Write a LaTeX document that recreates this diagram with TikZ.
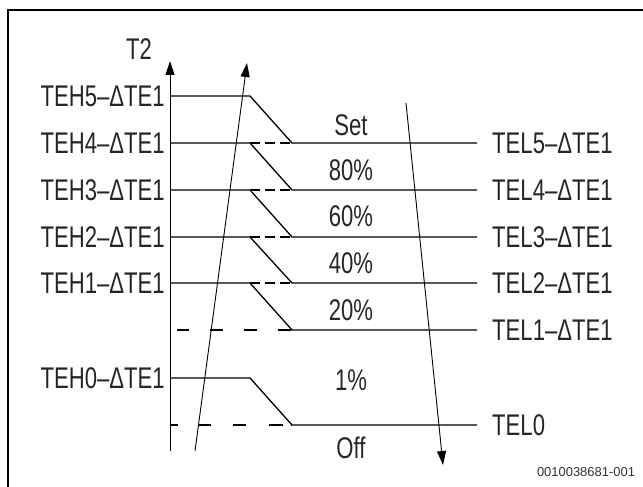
\documentclass[tikz,border=0pt]{standalone}
\usepackage{fontspec}
\setmainfont{Liberation Sans}
\newfontfamily\labelfont{Liberation Sans}[FakeStretch=0.74]
\usetikzlibrary{arrows.meta}

\begin{document}
\begin{tikzpicture}[x=1bp, y=-1bp,
    lbl/.style={font=\labelfont\fontsize{30}{32}\selectfont, text=black!85, inner sep=0pt},
    lvl/.style={line width=1.3bp},
    shortdash/.style={line width=1.3bp, dash pattern=on 10bp off 5bp},
    longdash/.style={line width=1.3bp, dash pattern=on 13bp off 21bp},
    flow/.style={line width=0.9bp, -{Triangle[length=14bp, width=9bp]}}]
  \useasboundingbox (0,0) rectangle (643,487);

  % frame
  \draw[line width=2.4bp] (8,487) -- (8,10) -- (643,10);

  % axis
  \coordinate (ax0) at (170,451);
  \coordinate (ax1) at (170,61);
  \draw[line width=1bp, -{Triangle[length=14bp, width=9bp]}] (ax0) -- (ax1);
  \node[lbl] (t2) at (139,49) {T2};

  % levels
  \coordinate (h5) at (170,96);
  \coordinate (h4) at (170,143);
  \coordinate (h3) at (170,190);
  \coordinate (h2) at (170,237);
  \coordinate (h1) at (170,283);
  \coordinate (l1) at (170,330);
  \coordinate (h0) at (170,378);
  \coordinate (l0) at (170,425);
  \coordinate (bx) at (250,0);
  \coordinate (fx) at (292,0);
  \coordinate (ex) at (477,0);

  \draw[lvl] (h5) -- (h5 -| bx) -- (h4 -| fx) -- (h4 -| ex);
  \draw[lvl] (h4) -- (h4 -| bx) -- (h3 -| fx) -- (h3 -| ex);
  \draw[lvl] (h3) -- (h3 -| bx) -- (h2 -| fx) -- (h2 -| ex);
  \draw[lvl] (h2) -- (h2 -| bx) -- (h1 -| fx) -- (h1 -| ex);
  \draw[lvl] (h1) -- (h1 -| bx) -- (l1 -| fx) -- (l1 -| ex);
  \draw[lvl] (h0) -- (h0 -| bx) -- (l0 -| fx) -- (l0 -| ex);

  \draw[shortdash] (h4 -| bx) -- (h4 -| fx);
  \draw[shortdash] (h3 -| bx) -- (h3 -| fx);
  \draw[shortdash] (h2 -| bx) -- (h2 -| fx);
  \draw[shortdash] (h1 -| bx) -- (h1 -| fx);
  \draw[longdash, dash phase=1bp] ([xshift=7bp]l1) -- (l1 -| fx);
  \draw[longdash, dash pattern=on 8bp off 20bp on 13bp off 22bp on 13bp off 23bp on 14bp] (l0) -- (l0 -| fx);

  % left labels
  \node[lbl, anchor=east] (teh5) at (165,96) {TEH5–ΔTE1};
  \node[lbl, anchor=east] (teh4) at (165,143) {TEH4–ΔTE1};
  \node[lbl, anchor=east] (teh3) at (165,190) {TEH3–ΔTE1};
  \node[lbl, anchor=east] (teh2) at (165,237) {TEH2–ΔTE1};
  \node[lbl, anchor=east] (teh1) at (165,283) {TEH1–ΔTE1};
  \node[lbl, anchor=east] (teh0) at (165,378) {TEH0–ΔTE1};

  % right labels
  \node[lbl, anchor=west] (tel5) at (492,143) {TEL5–ΔTE1};
  \node[lbl, anchor=west] (tel4) at (492,190) {TEL4–ΔTE1};
  \node[lbl, anchor=west] (tel3) at (492,237) {TEL3–ΔTE1};
  \node[lbl, anchor=west] (tel2) at (492,283) {TEL2–ΔTE1};
  \node[lbl, anchor=west] (tel1) at (492,330) {TEL1–ΔTE1};
  \node[lbl, anchor=west] (tel0) at (492,425) {TEL0};

  % steps
  \node[lbl] (pset) at (351,125) {Set};
  \node[lbl] (p80) at (351,170) {80\%};
  \node[lbl] (p60) at (351,216) {60\%};
  \node[lbl] (p40) at (351,263) {40\%};
  \node[lbl] (p20) at (351,310) {20\%};
  \node[lbl] (p1) at (351,380) {1\%};
  \node[lbl] (poff) at (351,448) {Off};

  % up and down
  \coordinate (up0) at (195,451);
  \coordinate (up1) at (247,63);
  \coordinate (dn0) at (406,103);
  \coordinate (dn1) at (443,465);
  \draw[flow] (up0) -- (up1);
  \draw[flow] (dn0) -- (dn1);

  \node[font=\fontsize{13}{15}\selectfont, text=black!80, inner sep=0pt] (docid) at (586,472) {0010038681-001};
\end{tikzpicture}
\end{document}
